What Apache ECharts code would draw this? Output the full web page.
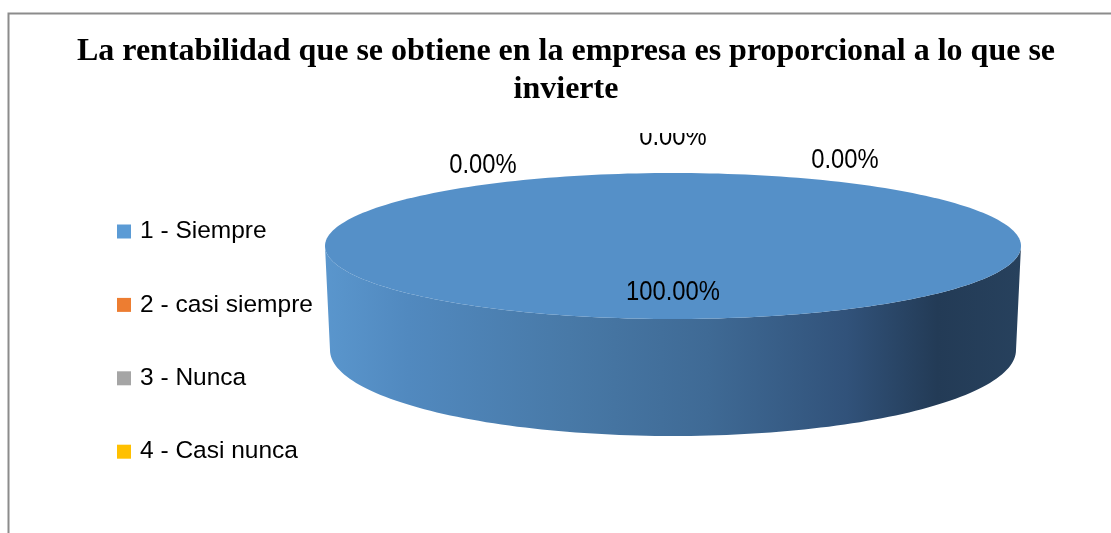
<!DOCTYPE html>
<html>
<head>
<meta charset="utf-8">
<script src="https://cdn.jsdelivr.net/npm/echarts@6/dist/echarts.min.js"></script>
<style>
  html, body { margin: 0; padding: 0; background: #ffffff; }
  #chart { width: 1111px; height: 533px; }
</style>
</head>
<body>
<div id="chart"></div>
<script>
// ---- data ----
const titleText = 'La rentabilidad que se obtiene en la empresa es proporcional a lo que se\ninvierte';
const categories = ['1 - Siempre', '2 - casi siempre', '3 - Nunca', '4 - Casi nunca'];
const values = [100, 0, 0, 0];
const colors = ['#5b9bd5', '#ed7d31', '#a5a5a5', '#ffc000'];

// ---- layout (3D pie geometry) ----
const CX = 673, CY = 246, RX = 348, RY = 73;
const DEPTH = 104, BRX = 343, BRY = 86;
const LABEL_R = 0.63;
const ZERO_SPREAD = [{dx: -190, dy: 28}, {dx: 0, dy: 0}, {dx: 172, dy: 23}];
const ZERO_LIFT = 36;
const CLIP_TOP = 133;

const total = values.reduce((a, b) => a + b, 0);
const cum = [];
values.reduce((acc, v, i) => { cum[i] = acc; return acc + v; }, 0);

function topPt(deg) {
  const t = deg * Math.PI / 180;
  return [CX + RX * Math.sin(t), CY - RY * Math.cos(t)];
}
function botPt(deg) {
  const t = deg * Math.PI / 180;
  return [CX + BRX * Math.sin(t), CY + DEPTH - BRY * Math.cos(t)];
}

const sideGradient = {
  type: 'linear', x: CX - RX, y: 0, x2: CX + RX, y2: 0, global: true,
  colorStops: [
    {offset: 0, color: '#5a96cd'},
    {offset: 0.12, color: '#5189bf'},
    {offset: 0.35, color: '#4879a7'},
    {offset: 0.55, color: '#3f6a95'},
    {offset: 0.75, color: '#31527a'},
    {offset: 0.88, color: '#233b56'},
    {offset: 1, color: '#27415d'}
  ]
};
const topColor = '#5590c8';
const sansFamily = '"Liberation Sans", Arial, sans-serif';
const labelFont = '28px ' + sansFamily;
const LABEL_SCALE_X = 0.85;

function labelEl(text, x, y) {
  return {
    type: 'text', x: x, y: y, scaleX: LABEL_SCALE_X,
    style: {
      text: text, x: 0, y: 0,
      font: labelFont, fill: '#000', align: 'center', verticalAlign: 'middle'
    }
  };
}

function renderSlice(params, api) {
  const i = params.dataIndex;
  const v = api.value(0);
  const a0 = cum[i] / total * 360;
  const a1 = (cum[i] + v) / total * 360;
  const children = [];
  const txt = (v / total * 100).toFixed(2) + '%';
  if (v > 0) {
    const s0 = Math.max(a0, 90), s1 = Math.min(a1, 270);
    if (s1 > s0) {
      const pts = [];
      const n = 120;
      for (let k = 0; k <= n; k++) pts.push(topPt(s0 + (s1 - s0) * k / n));
      for (let k = n; k >= 0; k--) pts.push(botPt(s0 + (s1 - s0) * k / n));
      children.push({type: 'polygon', shape: {points: pts}, style: {fill: sideGradient}});
    }
    const tp = [];
    if (a1 - a0 < 360) tp.push([CX, CY]);
    const m = 240;
    for (let k = 0; k <= m; k++) tp.push(topPt(a0 + (a1 - a0) * k / m));
    children.push({type: 'polygon', shape: {points: tp}, style: {fill: topColor}});
    const mid = (a0 + a1) / 2 * Math.PI / 180;
    children.push(labelEl(txt,
      CX + RX * LABEL_R * Math.sin(mid),
      CY - RY * LABEL_R * Math.cos(mid)));
  } else {
    const zeroIdx = values.slice(0, i).filter(x => x === 0).length;
    const sp = ZERO_SPREAD[zeroIdx % ZERO_SPREAD.length];
    const p = topPt(a0);
    children.push(labelEl(txt, p[0] + sp.dx, p[1] - ZERO_LIFT + sp.dy));
  }
  return {
    type: 'group',
    clipPath: {type: 'rect', shape: {x: 0, y: CLIP_TOP, width: 1111, height: 533 - CLIP_TOP}},
    children: children
  };
}

const chart = echarts.init(document.getElementById('chart'));
chart.setOption({
  backgroundColor: '#ffffff',
  animation: false,
  title: {
    text: titleText,
    left: 566, top: 33, textAlign: 'center', padding: 0,
    textStyle: {
      fontFamily: '"Liberation Serif", "Times New Roman", serif',
      fontWeight: 'bold', fontSize: 32, lineHeight: 38, color: '#000'
    }
  },
  legend: {
    orient: 'vertical', left: 117, top: 219, padding: 0,
    itemWidth: 14, itemHeight: 14, itemGap: 48.4, icon: 'rect',
    selectedMode: false,
    textStyle: {
      fontFamily: sansFamily,
      fontSize: 24.5, lineHeight: 24, color: '#000', padding: [0, 0, 0, 4]
    },
    data: categories
  },
  graphic: [{
    type: 'rect', silent: true, z: -1,
    shape: {x: 8.5, y: 13.5, width: 1200, height: 600},
    style: {fill: 'none', stroke: '#8c8c8c', lineWidth: 2}
  }],
  series: [
    {
      type: 'pie', radius: [0, 0], center: [CX, CY], silent: true,
      label: {show: false}, labelLine: {show: false},
      data: categories.map((c, i) => ({name: c, value: values[i], itemStyle: {color: colors[i]}}))
    },
    {
      type: 'custom', coordinateSystem: 'none', silent: true,
      renderItem: renderSlice,
      data: values.map(v => [v])
    }
  ]
});
</script>
</body>
</html>
